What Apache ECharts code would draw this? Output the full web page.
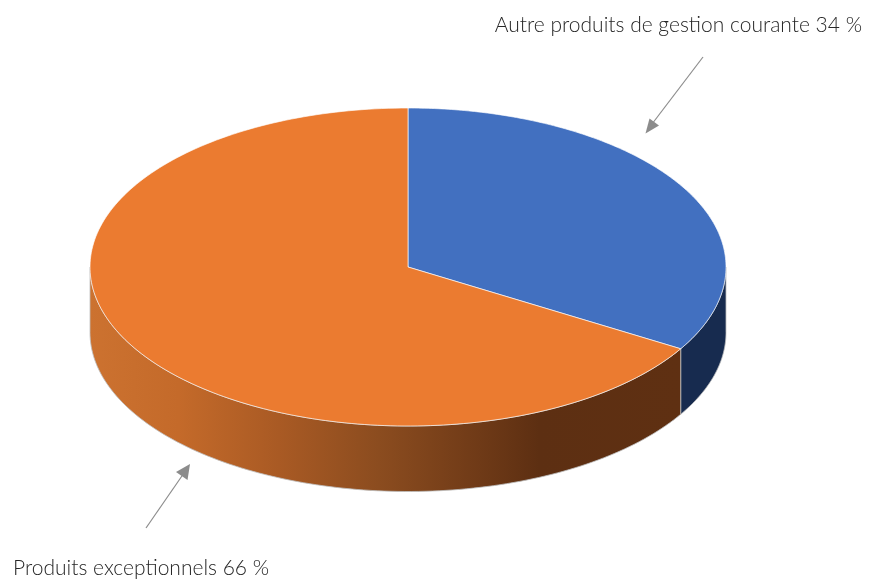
<!DOCTYPE html>
<html>
<head>
<meta charset="utf-8">
<style>
html, body { margin: 0; padding: 0; background: #fff; }
#main { width: 879px; height: 580px; }
</style>
<script src="https://cdn.jsdelivr.net/npm/echarts@6/dist/echarts.min.js"></script>
</head>
<body>
<div id="main"></div>
<script>
// data, labels show them rounded
var names = ['Autre produits de gestion courante', 'Produits exceptionnels'];
var values = [33.6, 66.4];
var topColors = ['#4270C0', '#EB7B30'];

var cx = 408, cy = 267, rx = 318, ry = 159, depth = 65.5;
var total = values[0] + values[1];

var orangeSide = {
  type: 'linear', global: true, x: 90, y: 0, x2: 681, y2: 0,
  colorStops: [
    { offset: 0, color: '#CC7230' },
    { offset: 0.15, color: '#C46A2A' },
    { offset: 0.32, color: '#A95A24' },
    { offset: 0.49, color: '#8B4C1F' },
    { offset: 0.66, color: '#6F3A17' },
    { offset: 0.76, color: '#5D2F12' },
    { offset: 1, color: '#5F3012' }
  ]
};
var sideColors = ['#172B4F', orangeSide];

function startAngle(i) {
  var sum = 0;
  for (var k = 0; k < i; k++) sum += values[k];
  return sum / total * 2 * Math.PI;
}

// point on the ellipse, angle clockwise from the top
function pt(a, dy) {
  return [cx + rx * Math.sin(a), cy - ry * Math.cos(a) + dy];
}

function renderSide(params, api) {
  var i = params.dataIndex;
  var a0 = startAngle(i);
  var a1 = a0 + api.value(0) / total * 2 * Math.PI;
  // only the front half of the rim can be seen
  a0 = Math.max(a0, Math.PI / 2);
  a1 = Math.min(a1, Math.PI * 1.5);
  var pts = [];
  var n = 120;
  for (var k = 0; k <= n; k++) pts.push(pt(a0 + (a1 - a0) * k / n, 0));
  for (var j = n; j >= 0; j--) pts.push(pt(a0 + (a1 - a0) * j / n, depth));
  return {
    type: 'polygon',
    shape: { points: pts },
    style: { fill: sideColors[i], stroke: 'rgba(190,190,190,0.8)', lineWidth: 1 }
  };
}

function renderTop(params, api) {
  var i = params.dataIndex;
  var a0 = startAngle(i);
  var a1 = a0 + api.value(0) / total * 2 * Math.PI;
  var pts = [[cx, cy]];
  var n = 200;
  for (var k = 0; k <= n; k++) pts.push(pt(a0 + (a1 - a0) * k / n, 0));
  return {
    type: 'polygon',
    shape: { points: pts },
    style: { fill: topColors[i], stroke: 'rgba(255,255,255,0.65)', lineWidth: 1 }
  };
}

var myChart = echarts.init(document.getElementById('main'), null, { renderer: 'canvas' });

var labelFont = { fontFamily: 'Lato', fontWeight: 300, fontSize: 21, fill: '#262626' };

var option = {
  backgroundColor: '#fff',
  animation: false,
  series: [
    { type: 'custom', coordinateSystem: 'none', silent: true, z: 1, renderItem: renderSide, data: values },
    { type: 'custom', coordinateSystem: 'none', silent: true, z: 2, renderItem: renderTop, data: values }
  ],
  graphic: [
    { type: 'text', right: 17, top: 15, style: Object.assign({ text: names[0] + ' ' + Math.round(values[0]) + ' %' }, labelFont) },
    { type: 'text', left: 13, top: 558, style: Object.assign({ text: names[1] + ' ' + Math.round(values[1]) + ' %' }, labelFont) },
    { type: 'line', shape: { x1: 703, y1: 57, x2: 652, y2: 124 }, style: { stroke: '#8C8C8C', lineWidth: 1.2 } },
    { type: 'polygon', shape: { points: [[645.5, 133.5], [649.5, 118.5], [659, 125.5]] }, style: { fill: '#8C8C8C' } },
    { type: 'line', shape: { x1: 146, y1: 528, x2: 184, y2: 473 }, style: { stroke: '#8C8C8C', lineWidth: 1.2 } },
    { type: 'polygon', shape: { points: [[190, 464], [187.5, 480], [176, 472]] }, style: { fill: '#8C8C8C' } }
  ]
};

myChart.setOption(option);
window.onresize = function() {
  myChart.resize();
};
</script>
</body>
</html>
